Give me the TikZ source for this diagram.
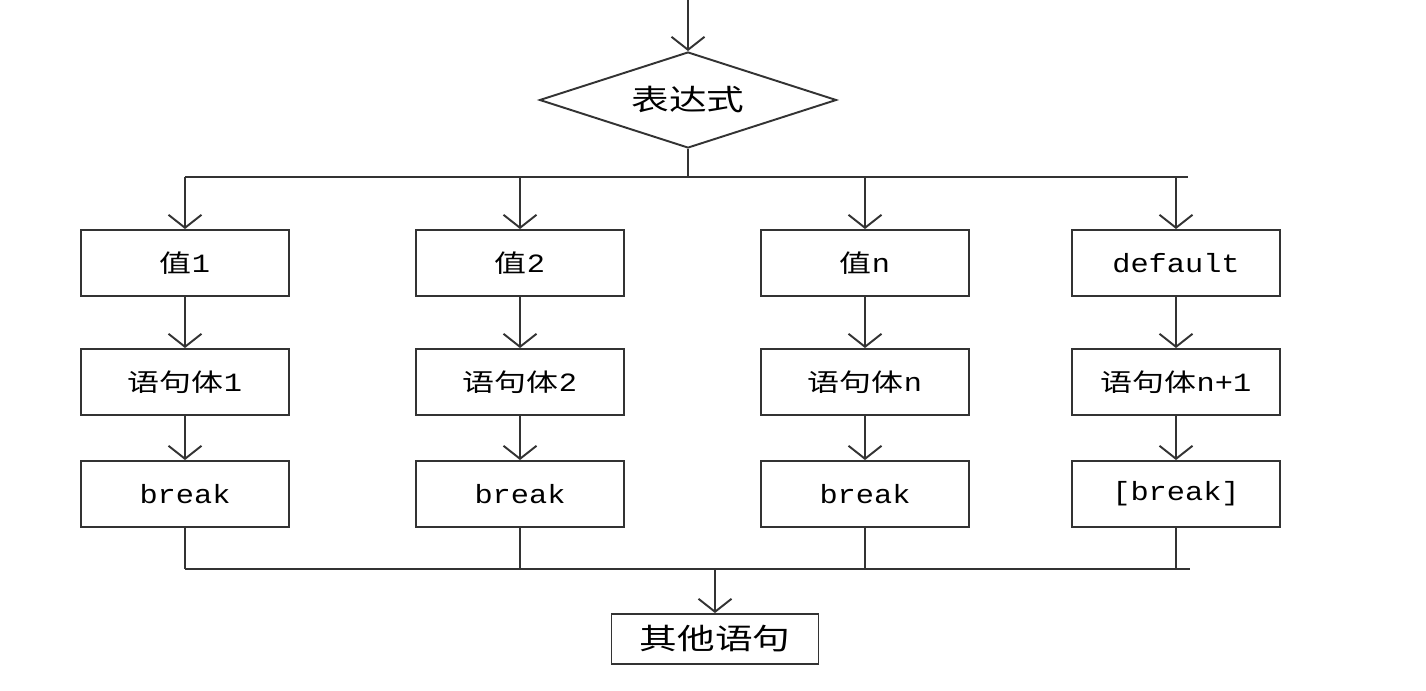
\documentclass[tikz,border=0pt]{standalone}
\usepackage{fontspec}
\newfontfamily\cjk[FakeStretch=1.3]{Noto Sans CJK SC}
\newfontfamily\latf[FakeStretch=1.15]{Liberation Mono}
\newcommand{\lat}{\latf\fontsize{15}{17}\selectfont}
\usetikzlibrary{arrows.meta}
\usetikzlibrary{shapes.geometric, positioning}

\tikzset{
  line/.style={line width=1.1pt, draw=black!80},
  box/.style={line, rectangle, minimum width=4.16cm, minimum height=1.32cm, inner sep=0pt},
  barb/.style={line, -{Straight Barb[length=0.26cm, width=0.66cm]}},
  big/.style={font=\fontsize{16.5}{18}\selectfont},
}

\begin{document}
\begin{tikzpicture}[x=0.02cm, y=-0.02cm, font=\fontsize{14}{16}\selectfont]
        \useasboundingbox (0,0) rectangle (1426,690);

        % Bedingung oben
        \node[line, diamond, aspect=3, minimum width=5.94cm, minimum height=1.92cm, inner sep=0pt, big] (expr) at (688,100) {\cjk 表达式};
        \coordinate (start) at (688,0);
        \draw[barb] (start) -- (expr.north);

        % Verteiler und Sammelleitung
        \coordinate (busL) at (185,177);
        \coordinate (busR) at (1188,177);
        \coordinate (joinL) at (185,569);
        \coordinate (joinR) at (1190,569);
        \draw[line] (expr.south) -- (expr.south |- busL);
        \draw[line] (busL) -- (busR);
        \draw[line] (joinL) -- (joinR);

        % Spalten: Wert, Anweisung, break
        \foreach \i/\x/\val/\body/\brk in {
            1/185/{\cjk 值\lat 1}/{\cjk 语句体\lat 1}/{break},
            2/520/{\cjk 值\lat 2}/{\cjk 语句体\lat 2}/{break},
            3/865/{\cjk 值\lat n}/{\cjk 语句体\lat n}/{break},
            4/1176/{\lat default}/{\cjk 语句体\lat n+1}/{[break]}} {
          \node[box] (v\i) at (\x,263) {\val};
          \node[box] (s\i) at (\x,382) {\body};
          \node[box] (b\i) at (\x,494) {\lat \brk};
          \draw[barb] (v\i.north |- busL) -- (v\i.north);
          \draw[barb] (v\i) -- (s\i);
          \draw[barb] (s\i) -- (b\i);
          \draw[line] (b\i.south) -- (b\i.south |- joinL);
        }

        % Ausgang
        \node[box, minimum width=4.14cm, minimum height=1cm, big] (rest) at (715,639) {\cjk 其他语句};
        \draw[barb] (rest.north |- joinL) -- (rest.north);
\end{tikzpicture}
\end{document}
